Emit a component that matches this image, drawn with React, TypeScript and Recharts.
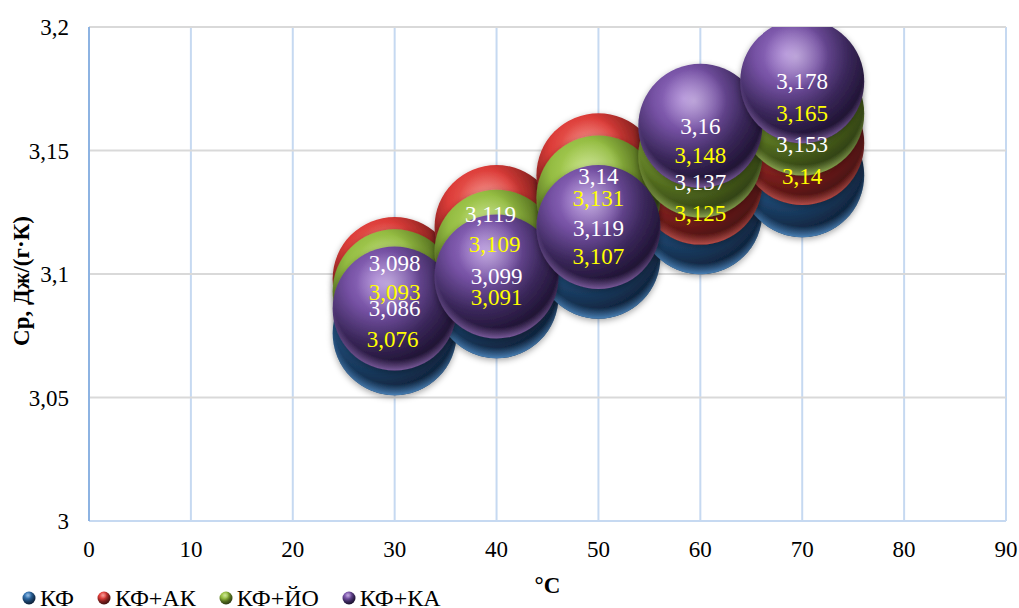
import { CartesianGrid, Label, Scatter, ScatterChart, XAxis, YAxis, ZAxis } from 'recharts';

const temperatures = [30, 40, 50, 60, 70];

const seriesNames = ['КФ', 'КФ+АК', 'КФ+ЙО', 'КФ+КА'];
const kf = [3.076, 3.091, 3.107, 3.125, 3.14];
const kfAk = [3.098, 3.119, 3.14, 3.137, 3.153];
const kfYo = [3.093, 3.109, 3.131, 3.148, 3.165];
const kfKa = [3.086, 3.099, 3.119, 3.16, 3.178];
const seriesValues = [kf, kfAk, kfYo, kfKa];

const xTicks = [0, 10, 20, 30, 40, 50, 60, 70, 80, 90];
const yTicks = [3, 3.05, 3.1, 3.15, 3.2];

// sphere shading per series: light, mid, dark, deep, rim
const palettes = [
  ['#5b9bd9', '#2f6ba6', '#1a3d63', '#0c1b30', '#4a82b8'],
  ['#f06a62', '#dc3c38', '#7a1e1c', '#3a0e0d', '#b84e4a'],
  ['#b4d860', '#94bc42', '#50691d', '#263312', '#8ea852'],
  ['#a27bd0', '#7450a2', '#3a275a', '#150c24', '#7c5c9e'],
];
const labelColors = ['#ffff00', '#ffffff', '#ffff00', '#ffffff'];

// hand-placed label shifts [dx, dy], one row per series
const labelShifts = [
  [[-2, 6], [0, 1], [0, 0], [0, 1], [0, 1]],
  [[0, -15], [-6, -13], [0, 1], [0, 0], [0, 1]],
  [[0, 1], [-2, -7], [0, 1], [0, 0], [0, 0]],
  [[0, 0], [0, 0], [0, 1], [0, 1], [0, 0]],
];

const BUBBLE_R = 62;
const FONT = '"Liberation Serif", "Times New Roman", serif';
const comma = (v: number) => String(v).replace('.', ',');

const rows = (s: number) => temperatures.map((t, i) => ({ t, v: seriesValues[s][i] }));
const labelRows = seriesValues.flatMap((values, s) =>
  values.map((v, i) => ({ t: temperatures[i], v, text: comma(v), color: labelColors[s], shift: labelShifts[s][i] })),
);

function Bubble({ cx, cy, index }: any) {
  return (
    <g filter="url(#bubbleShadow)">
      <circle cx={cx} cy={cy} r={BUBBLE_R} fill={`url(#body${index})`} />
      <circle cx={cx} cy={cy} r={BUBBLE_R} fill={`url(#shine${index})`} />
      <circle cx={cx} cy={cy} r={BUBBLE_R} fill={`url(#rim${index})`} />
    </g>
  );
}

function ValueText({ cx, cy, payload }: any) {
  return (
    <text
      x={cx + payload.shift[0]}
      y={cy + payload.shift[1]}
      fill={payload.color}
      fontSize={23}
      fontFamily={FONT}
      textAnchor="middle"
      dominantBaseline="central"
    >
      {payload.text}
    </text>
  );
}

function LegendRow() {
  return (
    <div
      style={{
        position: 'absolute',
        left: 22,
        top: 588,
        display: 'flex',
        fontFamily: FONT,
        fontSize: 24,
        lineHeight: '20px',
        color: '#000',
      }}
    >
      {seriesNames.map((name, i) => (
        <span key={name} style={{ display: 'flex', alignItems: 'center', marginRight: 23 }}>
          <svg width={14} height={14} style={{ marginRight: 4 }}>
            <circle cx={7} cy={7} r={6.5} fill={`url(#body${i})`} />
            <circle cx={7} cy={7} r={6.5} fill={`url(#shine${i})`} />
          </svg>
          {name}
        </span>
      ))}
    </div>
  );
}

export default function App() {
  const tick = { fill: '#000', fontSize: 23, fontFamily: FONT };
  const title = { fill: '#000', fontSize: 23, fontFamily: FONT, fontWeight: 700 };
  return (
    <div style={{ position: 'absolute', left: 0, top: 0, width: 1019, height: 608, background: '#fff' }}>
      <ScatterChart width={1019} height={608} margin={{ top: 27, right: 13, bottom: 0, left: 0 }}>
        <defs>
          <filter id="bubbleShadow" x="-20%" y="-20%" width="140%" height="140%">
            <feDropShadow dx={0} dy={2} stdDeviation={3} floodColor="#000" floodOpacity={0.35} />
          </filter>
          {palettes.map((p, i) => (
            <g key={i}>
              <radialGradient id={`body${i}`} cx="37%" cy="28%" r="76%">
                <stop offset="0%" stopColor={p[0]} />
                <stop offset="34%" stopColor={p[1]} />
                <stop offset="66%" stopColor={p[2]} />
                <stop offset="100%" stopColor={p[3]} />
              </radialGradient>
              <radialGradient id={`shine${i}`} cx="45%" cy="30%" r="26%">
                <stop offset="0%" stopColor="#fff" stopOpacity={0.38} />
                <stop offset="100%" stopColor="#fff" stopOpacity={0} />
              </radialGradient>
              <radialGradient id={`rim${i}`} cx="50%" cy="42%" r="60%">
                <stop offset="82%" stopColor={p[4]} stopOpacity={0} />
                <stop offset="97%" stopColor={p[4]} stopOpacity={1} />
              </radialGradient>
            </g>
          ))}
        </defs>
        <CartesianGrid horizontal={false} stroke="#c6d9f1" strokeWidth={2} />
        <CartesianGrid vertical={false} stroke="#d9d9d9" strokeWidth={2} />
        <XAxis
          type="number"
          dataKey="t"
          domain={[0, 90]}
          ticks={xTicks}
          interval={0}
          allowDataOverflow
          height={87}
          tick={tick}
          tickLine={false}
          tickMargin={14}
          axisLine={{ stroke: '#c6d9f1', strokeWidth: 2 }}
        >
          <Label value="°С" position="insideBottom" offset={15} style={title} />
        </XAxis>
        <YAxis
          type="number"
          dataKey="v"
          domain={[3, 3.2]}
          ticks={yTicks}
          interval={0}
          allowDataOverflow
          width={89}
          tick={tick}
          tickLine={false}
          tickMargin={14}
          tickFormatter={comma}
          axisLine={{ stroke: '#8db3e2', strokeWidth: 2 }}
        >
          <Label value="Ср, Дж/(г·К)" angle={-90} position="insideLeft" offset={21} dy={7} style={{ ...title, textAnchor: 'middle' }} />
        </YAxis>
        <ZAxis range={[60, 60]} />
        {seriesNames.map((name, s) => (
          <Scatter
            key={name}
            name={name}
            data={rows(s)}
            fill={palettes[s][1]}
            isAnimationActive={false}
            shape={(props: any) => <Bubble {...props} index={s} />}
          />
        ))}
        <Scatter
          name="values"
          data={labelRows}
          isAnimationActive={false}
          shape={(props: any) => <ValueText {...props} />}
        />
      </ScatterChart>
      <LegendRow />
    </div>
  );
}
